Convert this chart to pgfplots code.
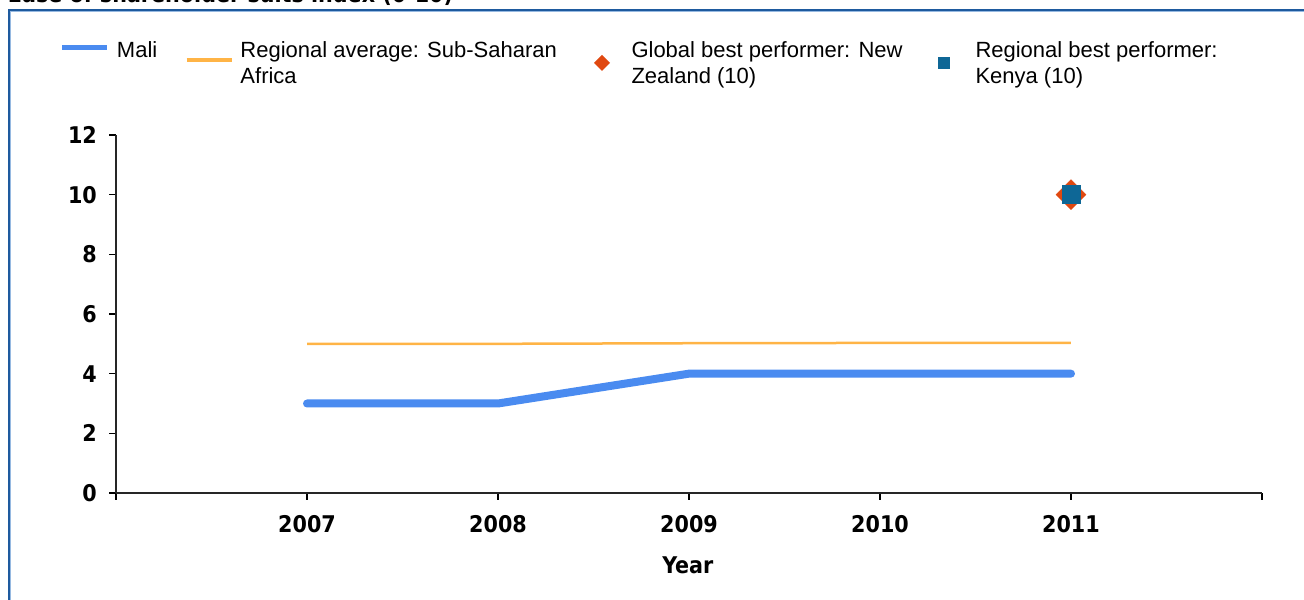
\documentclass[border=0pt]{standalone}
\usepackage{fontspec}
\setmainfont{Liberation Sans}
\newfontfamily\cfont{DejaVu Sans Condensed}
\usepackage{pgfplots}
\pgfplotsset{compat=1.18}
\definecolor{maliblue}{RGB}{74,139,240}
\definecolor{avgorange}{RGB}{255,180,70}
\definecolor{globalred}{RGB}{224,72,16}
\definecolor{regblue}{RGB}{14,103,150}
\definecolor{framedark}{RGB}{30,90,158}
\definecolor{framelight}{RGB}{150,185,225}
\newcommand{\bigbold}{\cfont\bfseries\fontsize{23bp}{27bp}\selectfont}
\begin{document}
\begin{tikzpicture}[x=1bp,y=1bp]
\useasboundingbox (0,0) rectangle (1304,600);
\clip (0,0) rectangle (1304,600);
\node[anchor=base west, inner sep=0, font=\bigbold] at (7.7,597) {Ease of shareholder suits index (0-10)};
\draw[framedark, line width=1.8bp] (9.2,-20) -- (9.2,589.8) -- (1330,589.8);
\draw[framelight, line width=1.2bp] (10.7,-20) -- (10.7,588.3) -- (1330,588.3);
\begin{axis}[
  at={(116bp,107bp)}, anchor=south west,
  scale only axis, width=1146bp, height=358bp,
  xmin=2006, xmax=2012, ymin=0, ymax=12,
  axis lines=left,
  axis line style={-, line width=1.6bp, color=black!85},
  xtick={2006,2007,2008,2009,2010,2011,2012},
  xticklabels={{},2007,2008,2009,2010,2011,{}},
  ytick={0,2,4,6,8,10,12},
  /pgf/number format/assume math mode=true,
  tick align=outside, major tick length=7bp,
  tick style={line width=1.2bp, black},
  ticklabel style={font=\bigbold, inner sep=0pt},
  xticklabel style={anchor=north, yshift=-15bp},
  yticklabel style={anchor=east, xshift=-12bp},
  xlabel={Year},
  xlabel style={font=\bigbold, at={(axis description cs:0.499,-0.2235)}, anchor=base, inner sep=0pt},
  clip=false,
  legend columns=4,
  legend style={at={(axis description cs:-0.04887,1.3031)}, anchor=north west,
    draw=none, fill=none, inner sep=0pt, outer sep=0pt,
    font=\fontsize{22bp}{26bp}\selectfont,
    nodes={inner sep=0pt, outer sep=0pt},
    /tikz/every odd column/.append style={column sep=7bp},
    /tikz/every even column/.append style={column sep=0bp}},
  legend cell align=left,
]
\addplot[maliblue, line width=8bp, line cap=round, line join=round,
  legend image code/.code={\path[draw=none, fill=none] (0bp,-24bp) rectangle (45bp,24bp);
    \draw[maliblue, line width=5bp, line cap=butt] (0bp,3bp) -- (45bp,3bp);}]
  coordinates {(2007,3) (2008,3) (2009,4) (2010,4) (2011,4)};
\addlegendentry{\parbox[t]{68bp}{Mali}}
\addplot[avgorange, line width=2.5bp,
  legend image code/.code={\path[draw=none, fill=none] (0bp,-24bp) rectangle (45bp,24bp);
    \draw[avgorange, line width=3.5bp, line cap=butt] (0bp,-9.5bp) -- (45bp,-9.5bp);}]
  coordinates {(2007,5.0) (2008,5.0) (2009,5.02) (2010,5.03) (2011,5.03)};
\addlegendentry{\parbox[t]{339bp}{Regional average: Sub-Saharan\\Africa}}
\addplot[only marks, mark=square*, mark size=10.6bp, mark options={rotate=45, fill=globalred, draw=globalred},
  legend image code/.code={\path[draw=none, fill=none] (0bp,-24bp) rectangle (45bp,24bp);
    \path[draw=none, fill=globalred] (22.5bp,-20.5bp) -- (30.5bp,-12.5bp) -- (22.5bp,-4.5bp) -- (14.5bp,-12.5bp) -- cycle;}]
  coordinates {(2011,10)};
\addlegendentry{\parbox[t]{292bp}{Global best performer: New\\Zealand (10)}}
\addplot[only marks, mark=square*, mark size=9bp, mark options={fill=regblue, draw=regblue},
  legend image code/.code={\path[draw=none, fill=none] (0bp,-24bp) rectangle (45bp,24bp);
    \path[draw=none, fill=regblue] (14bp,-18.5bp) rectangle (26bp,-6.5bp);}]
  coordinates {(2011,10)};
\addlegendentry{\parbox[t]{260bp}{Regional best performer:\\Kenya (10)}}
\end{axis}
\end{tikzpicture}
\end{document}
